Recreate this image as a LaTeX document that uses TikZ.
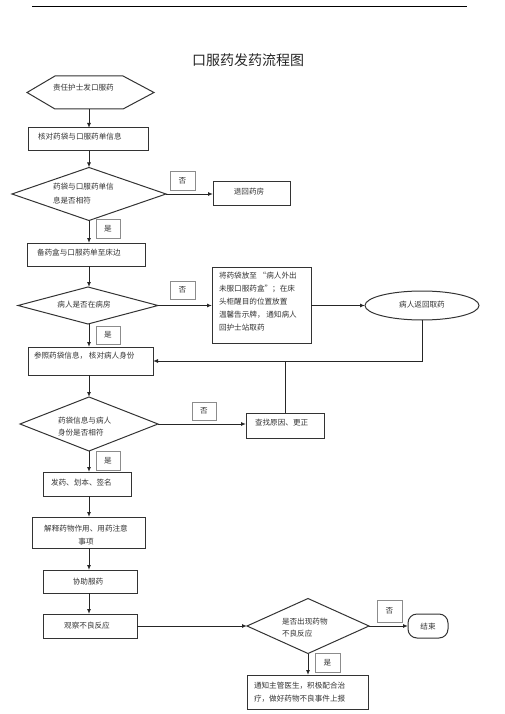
\documentclass[tikz,border=0pt]{standalone}
\usepackage{fontspec}
\setmainfont{Noto Sans CJK SC}
\usetikzlibrary{shapes.geometric,fit,arrows.meta,calc}
\begin{document}
\begin{tikzpicture}[x=1pt,y=-1pt,
  every node/.style={inner sep=0pt,outer sep=0pt},
  box/.style={draw=black!80,line width=1pt,rectangle},
  dia/.style={draw=black!80,line width=1pt,diamond},
  txt/.style={text=black!80,font=\fontsize{7.6}{13}\selectfont,align=left},
  ctxt/.style={text=black!80,font=\fontsize{7.6}{13}\selectfont,align=center},
  lbl/.style={draw=black!45,line width=0.4pt,rectangle,text=black!80,font=\fontsize{7.6}{9}\selectfont},
  arr/.style={draw=black!85,line width=1pt,-{Latex[length=5pt,width=4pt]}},
  ln/.style={draw=black!85,line width=1pt}]
\useasboundingbox (0,0) rectangle (505,714);
% top rule and title
\coordinate (rl) at (32,6);
\coordinate (rr) at (467,6);
\draw[line width=0.8pt] (rl) -- (rr);
\node[font=\fontsize{14}{16}\selectfont,text=black!85] (title) at (248,60) {口服药发药流程图};
% start hexagon
\node[fit={(27,76) (154,109)}] (b1) {};
\draw[draw=black!80,line width=1pt] (b1.west) -- ($(b1.north west)+(28,0)$) -- ($(b1.north east)+(-31,0)$) -- (b1.east) -- ($(b1.south east)+(-31,0)$) -- ($(b1.south west)+(28,0)$) -- cycle;
\node[txt,anchor=west] (b1t) at (53,88) {责任护士发口服药};
% box 2
\node[box,fit={(28,128) (148,151)}] (b2) {};
\node[txt,anchor=west] (b2t) at (38,137) {核对药袋与口服药单信息};
% diamond 1
\node[dia,minimum width=154pt,minimum height=53pt] (d1) at (89,194) {};
\node[txt,anchor=west] (d1t) at (53,194) {药袋与口服药单信\\[1pt]息是否相符};
\node[lbl,fit={(170,171) (195,190)}] (n1) {};
\node[ctxt] at (n1.center) {否};
\node[box,fit={(213,182) (290,205)}] (r1) {};
\node[ctxt] (r1t) at (249,192) {退回药房};
\node[lbl,fit={(96,219) (120,238)}] (y1) {};
\node[ctxt] at (y1.center) {是};
% box 3
\node[box,fit={(27,243) (145,266)}] (b3) {};
\node[txt,anchor=west] (b3t) at (37,253) {备药盒与口服药单至床边};
% diamond 2
\node[dia,minimum width=140pt,minimum height=37pt] (d2) at (88,305.5) {};
\node[ctxt] (d2t) at (84,305) {病人是否在病房};
\node[lbl,fit={(170,281) (195,299)}] (n2) {};
\node[ctxt] at (n2.center) {否};
\node[box,fit={(212,267) (311,343)}] (bb) {};
\node[txt,anchor=west] (bbt) at (219,302) {将药袋放至 “病人外出\\未服口服药盒”；在床\\头柜醒目的位置放置\\温馨告示牌， 通知病人\\回护士站取药};
\node[draw=black!80,line width=1pt,ellipse,minimum width=114pt,minimum height=29pt] (el) at (422,305.5) {};
\node[ctxt] (elt) at (422,305) {病人返回取药};
\node[lbl,fit={(96,326) (120,344)}] (y2) {};
\node[ctxt] at (y2.center) {是};
% box 4
\node[box,fit={(28,347) (153,375)}] (b4) {};
\node[txt,anchor=west] (b4t) at (34,356) {参照药袋信息， 核对病人身份};
% diamond 3
\node[dia,minimum width=138pt,minimum height=54pt] (d3) at (89,424) {};
\node[txt,anchor=west] (d3t) at (58,426.5) {药袋信息与病人\\[-1pt]身份是否相符};
\node[lbl,fit={(192,402) (216,420)}] (n3) {};
\node[ctxt] at (n3.center) {否};
\node[box,fit={(246,413) (324,438)}] (c1) {};
\node[txt,anchor=west] (c1t) at (255,423) {查找原因、更正};
\node[lbl,fit={(96,451) (120,470)}] (y3) {};
\node[ctxt] at (y3.center) {是};
% box 5-8
\node[box,fit={(43,472) (131,496)}] (b5) {};
\node[txt,anchor=west] (b5t) at (51,483) {发药、划本、签名};
\node[box,fit={(32,517) (145,548)}] (b6) {};
\node[ctxt] (b6t) at (86,535.5) {解释药物作用、用药注意\\事项};
\node[box,fit={(43,570) (137,593)}] (b7) {};
\node[ctxt] (b7t) at (88,582) {协助服药};
\node[box,fit={(43,614) (137,638)}] (b8) {};
\node[ctxt] (b8t) at (87,626) {观察不良反应};
% diamond 4
\node[dia,minimum width=122pt,minimum height=55pt] (d4) at (308,626) {};
\node[txt,anchor=west] (d4t) at (282,628) {是否出现药物\\[-1pt]不良反应};
\node[lbl,fit={(377,600) (402,622)}] (n4) {};
\node[ctxt] at (n4.center) {否};
\node[draw=black!80,line width=1pt,rounded corners=9pt,fit={(408,614) (448,638)}] (end) {};
\node[ctxt] (endt) at (428,627) {结束};
\node[lbl,fit={(315,653) (340,672)}] (y4) {};
\node[ctxt] at (y4.center) {是};
\node[box,fit={(247,675) (368,709)}] (b9) {};
\node[txt,anchor=west] (b9t) at (254,692.5) {通知主管医生，积极配合治\\疗，做好药物不良事件上报};
% connectors
\draw[arr] (89,109) -- (89,128);
\draw[arr] (89,151) -- (d1.north);
\draw[arr] (d1.east) -- (d1.east -| r1.west);
\draw[arr] (d1.south) -- (d1.south |- b3.north);
\draw[arr] (89,266) -- (d2.north -| 89,0);
\draw[arr] (d2.east) -- (d2.east -| bb.west);
\draw[arr] (bb.east |- el.west) -- (el.west);
\draw[arr] (el.south) |- (b4.east);
\draw[ln] (c1.north) -- (c1.north |- b4.east);
\draw[arr] (89,324) -- (89,347);
\draw[arr] (89,375) -- (d3.north);
\draw[arr] (d3.east) -- (d3.east -| c1.west);
\draw[arr] (d3.south) -- (d3.south |- b5.north);
\draw[arr] (89,496) -- (89,517);
\draw[arr] (89,548) -- (89,570);
\draw[arr] (89,593) -- (89,614);
\draw[arr] (b8.east) -- (d4.west);
\draw[arr] (d4.east) -- (d4.east -| end.west);
\draw[arr] (d4.south) -- (d4.south |- b9.north);
\end{tikzpicture}
\end{document}
